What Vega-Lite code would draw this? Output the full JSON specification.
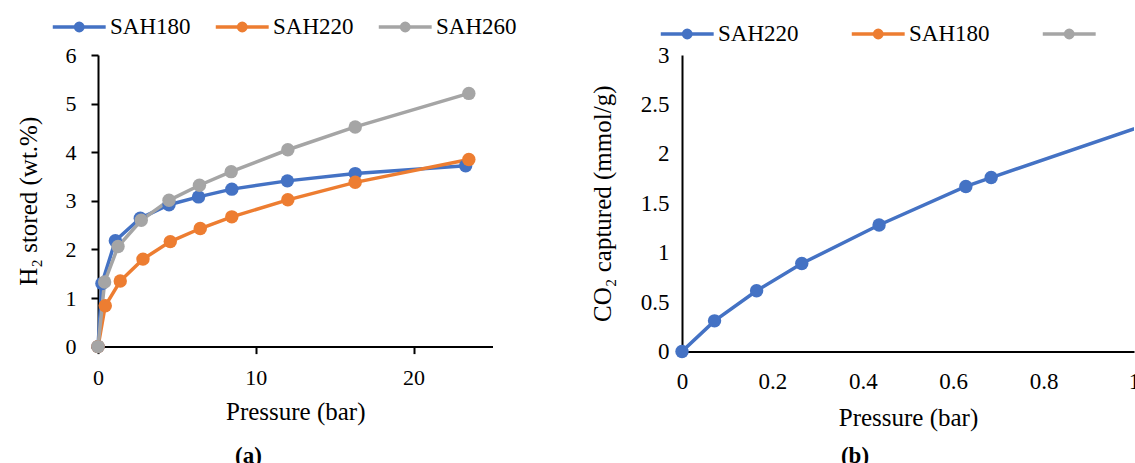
{
  "$schema": "https://vega.github.io/schema/vega-lite/v6.json",
  "background": "white",
  "padding": {"left": 16, "top": 12, "right": 0, "bottom": 0},
  "bounds": "flush",
  "spacing": 189,
  "config": {
    "font": "Liberation Serif",
    "view": {"stroke": null},
    "style": {
      "guide-label": {"font": "Liberation Serif", "fill": "black"},
      "guide-title": {"font": "Liberation Serif", "fill": "black"},
      "group-title": {"font": "Liberation Serif", "fill": "black"}
    },
    "axis": {
      "grid": false,
      "domainColor": "black",
      "domainWidth": 2,
      "tickColor": "black",
      "tickWidth": 2,
      "labelColor": "black",
      "titleColor": "black",
      "labelFont": "Liberation Serif",
      "titleFont": "Liberation Serif",
      "titleFontWeight": "normal",
      "labelFontSize": 22,
      "titleFontSize": 25,
      "format": "~r"
    },
    "legend": {
      "labelFont": "Liberation Serif",
      "labelColor": "black",
      "labelFontSize": 23,
      "padding": 0
    },
    "title": {"font": "Liberation Serif", "color": "black"}
  },
  "resolve": {"scale": {"color": "independent"}, "legend": {"color": "independent"}},
  "hconcat": [
    {
      "width": 394.5,
      "height": 291.6,
      "title": {"text": "(a)", "orient": "bottom", "anchor": "middle", "frame": "bounds", "font": "Liberation Serif", "fontSize": 23, "fontWeight": "bold", "offset": 20, "dx": -18},
      "data": {
        "values": [
          {"series": "SAH180", "pressure": 0, "stored": 0},
          {"series": "SAH180", "pressure": 0.25, "stored": 1.30},
          {"series": "SAH180", "pressure": 1.1, "stored": 2.18},
          {"series": "SAH180", "pressure": 2.68, "stored": 2.64},
          {"series": "SAH180", "pressure": 4.5, "stored": 2.92},
          {"series": "SAH180", "pressure": 6.37, "stored": 3.08},
          {"series": "SAH180", "pressure": 8.48, "stored": 3.24},
          {"series": "SAH180", "pressure": 12.0, "stored": 3.41},
          {"series": "SAH180", "pressure": 16.3, "stored": 3.56},
          {"series": "SAH180", "pressure": 23.3, "stored": 3.72},
          {"series": "SAH220", "pressure": 0, "stored": 0},
          {"series": "SAH220", "pressure": 0.46, "stored": 0.84},
          {"series": "SAH220", "pressure": 1.41, "stored": 1.35},
          {"series": "SAH220", "pressure": 2.85, "stored": 1.80},
          {"series": "SAH220", "pressure": 4.58, "stored": 2.16},
          {"series": "SAH220", "pressure": 6.48, "stored": 2.43},
          {"series": "SAH220", "pressure": 8.48, "stored": 2.67},
          {"series": "SAH220", "pressure": 12.03, "stored": 3.02},
          {"series": "SAH220", "pressure": 16.3, "stored": 3.38},
          {"series": "SAH220", "pressure": 23.5, "stored": 3.85},
          {"series": "SAH260", "pressure": 0, "stored": 0},
          {"series": "SAH260", "pressure": 0.42, "stored": 1.33},
          {"series": "SAH260", "pressure": 1.27, "stored": 2.06},
          {"series": "SAH260", "pressure": 2.74, "stored": 2.60},
          {"series": "SAH260", "pressure": 4.5, "stored": 3.01},
          {"series": "SAH260", "pressure": 6.43, "stored": 3.32},
          {"series": "SAH260", "pressure": 8.44, "stored": 3.60},
          {"series": "SAH260", "pressure": 12.03, "stored": 4.05},
          {"series": "SAH260", "pressure": 16.3, "stored": 4.52},
          {"series": "SAH260", "pressure": 23.5, "stored": 5.21}
        ]
      },
      "mark": {"type": "line", "strokeWidth": 3.5, "point": {"filled": true, "size": 180, "opacity": 1}},
      "encoding": {
        "x": {
          "field": "pressure", "type": "quantitative",
          "scale": {"domain": [0, 25], "nice": false, "zero": true},
          "axis": {"values": [0, 10, 20], "title": "Pressure (bar)", "tickSize": 7, "labelPadding": 14, "titlePadding": 11, "labelFlush": false, "format": "~r",
            "encode": {"labels": {"update": {"font": {"value": "Liberation Serif"}}}}}
        },
        "y": {
          "field": "stored", "type": "quantitative",
          "scale": {"domain": [0, 6], "nice": false},
          "axis": {"values": [0, 1, 2, 3, 4, 5, 6], "title": "H₂ stored (wt.%)", "tickSize": 7, "labelPadding": 15, "titlePadding": 24, "labelFlush": false, "format": "~r",
            "encode": {"labels": {"update": {"font": {"value": "Liberation Serif"}}}}}
        },
        "color": {
          "field": "series", "type": "nominal",
          "scale": {"domain": ["SAH180", "SAH220", "SAH260"], "range": ["#4472C4", "#ED7D31", "#A5A5A5"]},
          "legend": {
            "orient": "none", "legendX": -47, "legendY": -43, "direction": "horizontal", "title": null,
            "symbolType": "M-1,0L3,0M0.72,0A0.28,0.28,0,1,1,1.28,0A0.28,0.28,0,1,1,0.72,0Z",
            "symbolSize": 700, "symbolStrokeWidth": 3.5, "symbolOpacity": 1,
            "labelOffset": 29, "columnPadding": 17,
            "encode": {
              "labels": {"update": {"font": {"value": "Liberation Serif"}}},
              "symbols": {"update": {
                "fill": {"signal": "datum.value === 'SAH180' ? '#4472C4' : datum.value === 'SAH220' ? '#ED7D31' : '#A5A5A5'"},
                "stroke": {"signal": "datum.value === 'SAH180' ? '#4472C4' : datum.value === 'SAH220' ? '#ED7D31' : '#A5A5A5'"}
              }}
            }
          }
        }
      }
    },
    {
      "width": 452,
      "height": 296.5,
      "title": {"text": "(b)", "orient": "bottom", "anchor": "middle", "frame": "bounds", "font": "Liberation Serif", "fontSize": 23, "fontWeight": "bold", "offset": 14, "dx": -10},
      "data": {
        "values": [
          {"series": "SAH220", "pressure": 0, "captured": 0},
          {"series": "SAH220", "pressure": 0.072, "captured": 0.31},
          {"series": "SAH220", "pressure": 0.165, "captured": 0.615},
          {"series": "SAH220", "pressure": 0.265, "captured": 0.89},
          {"series": "SAH220", "pressure": 0.436, "captured": 1.28},
          {"series": "SAH220", "pressure": 0.628, "captured": 1.67},
          {"series": "SAH220", "pressure": 0.684, "captured": 1.76},
          {"series": "SAH220", "pressure": 1.05, "captured": 2.33}
        ]
      },
      "encoding": {
        "x": {
          "field": "pressure", "type": "quantitative",
          "scale": {"domain": [0, 1], "nice": false},
          "axis": {"values": [0, 0.2, 0.4, 0.6, 0.8, 1], "title": "Pressure (bar)", "ticks": false, "tickSize": 0, "labelPadding": 19, "titlePadding": 12, "labelFlush": false, "format": "~r", "labelFontSize": 23,
            "encode": {"labels": {"update": {"font": {"value": "Liberation Serif"}}}}}
        },
        "y": {
          "field": "captured", "type": "quantitative",
          "scale": {"domain": [0, 3], "nice": false},
          "axis": {"values": [0, 0.5, 1, 1.5, 2, 2.5, 3], "title": "CO₂ captured (mmol/g)", "ticks": false, "tickSize": 0, "labelPadding": 13, "titlePadding": 25, "labelFlush": false, "format": "~r", "labelFontSize": 23,
            "encode": {"labels": {"update": {"font": {"value": "Liberation Serif"}}}}}
        },
        "color": {
          "field": "series", "type": "nominal",
          "scale": {"domain": ["SAH220", "SAH180", "SAH260"], "range": ["#4472C4", "#ED7D31", "#A5A5A5"]},
          "legend": {
            "orient": "none", "legendX": -23, "legendY": -36, "direction": "horizontal", "title": null,
            "symbolType": "M-1,0L3,0M0.72,0A0.28,0.28,0,1,1,1.28,0A0.28,0.28,0,1,1,0.72,0Z",
            "symbolSize": 700, "symbolStrokeWidth": 3.5, "symbolOpacity": 1,
            "labelOffset": 29, "columnPadding": 45,
            "labelExpr": "datum.label === 'SAH260' ? '' : datum.label",
            "encode": {
              "labels": {"update": {"font": {"value": "Liberation Serif"}}},
              "symbols": {"update": {
                "fill": {"signal": "datum.value === 'SAH220' ? '#4472C4' : datum.value === 'SAH180' ? '#ED7D31' : '#A5A5A5'"},
                "stroke": {"signal": "datum.value === 'SAH220' ? '#4472C4' : datum.value === 'SAH180' ? '#ED7D31' : '#A5A5A5'"}
              }}
            }
          }
        }
      },
      "layer": [
        {"mark": {"type": "line", "strokeWidth": 3.5, "clip": true}},
        {"transform": [{"filter": "datum.pressure <= 1"}], "mark": {"type": "point", "filled": true, "size": 180, "opacity": 1}}
      ]
    }
  ]
}
